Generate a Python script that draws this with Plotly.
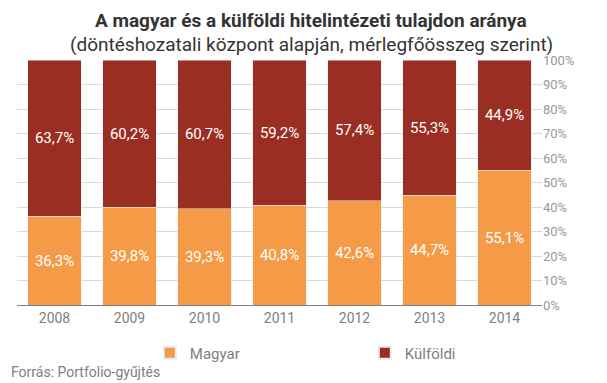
import plotly.graph_objects as go

years = ["2008", "2009", "2010", "2011", "2012", "2013", "2014"]
magyar = [36.3, 39.8, 39.3, 40.8, 42.6, 44.7, 55.1]
kulfoldi = [63.7, 60.2, 60.7, 59.2, 57.4, 55.3, 44.9]

FONT = "Roboto, sans-serif"
ORANGE = "#F59B47"
RED = "#9B2E22"
GRAY = "#808080"

def lab(v):
    return [f"{x:.1f}%".replace(".", ",") for x in v]

fig = go.Figure()
fig.add_trace(go.Bar(x=years, y=magyar, name="Magyar", marker_color=ORANGE,
                     text=lab(magyar), textposition="inside", insidetextanchor="middle",
                     textfont=dict(color="white", size=15, family=FONT), textangle=0))
fig.add_trace(go.Bar(x=years, y=kulfoldi, name="Külföldi", marker_color=RED,
                     text=lab(kulfoldi), textposition="inside", insidetextanchor="middle",
                     textfont=dict(color="white", size=15, family=FONT), textangle=0))

fig.update_layout(
    width=607, height=383,
    barmode="stack", bargap=0.29,
    margin=dict(l=17, r=65, t=60, b=78, autoexpand=False),
    paper_bgcolor="white", plot_bgcolor="white",
    font=dict(family=FONT, color=GRAY, size=14),
    uniformtext=dict(mode="show", minsize=10),
    showlegend=True,
    legend=dict(orientation="h", traceorder="normal",
                x=0.253, xanchor="left", xref="paper",
                y=30 / 383, yref="container", yanchor="middle",
                font=dict(size=15, color=GRAY), entrywidth=170, itemsizing="constant"),
    xaxis=dict(showline=True, linecolor="#808080", linewidth=1, ticks="",
               automargin=False, tickfont=dict(size=14, color=GRAY)),
    yaxis=dict(side="right", range=[0, 100], dtick=10, ticksuffix="%",
               showgrid=True, gridcolor="#D9D9D9", zeroline=False, automargin=False,
               tickfont=dict(size=13, color="#999999")),
)
fig.add_annotation(text="<b>A magyar és a külföldi hitelintézeti tulajdon aránya</b>",
                   xref="paper", yref="paper", x=0.56, y=1, yshift=40, xanchor="center",
                   yanchor="middle", showarrow=False,
                   font=dict(size=19, color="#333333", family=FONT))
fig.add_annotation(text="(döntéshozatali központ alapján, mérlegfőösszeg szerint)",
                   xref="paper", yref="paper", x=0.56, y=1, yshift=16, xanchor="center",
                   yanchor="middle", showarrow=False,
                   font=dict(size=19, color="#333333", family=FONT))
fig.add_annotation(text="Forrás: Portfolio-gyűjtés", xref="paper", yref="paper",
                   x=0, xshift=-8, y=0, yshift=-67, xanchor="left", yanchor="middle",
                   showarrow=False, font=dict(size=14, color=GRAY, family=FONT))

fig.write_html("out.html", config={"displayModeBar": False},
               post_script="document.body.style.margin='0';")
